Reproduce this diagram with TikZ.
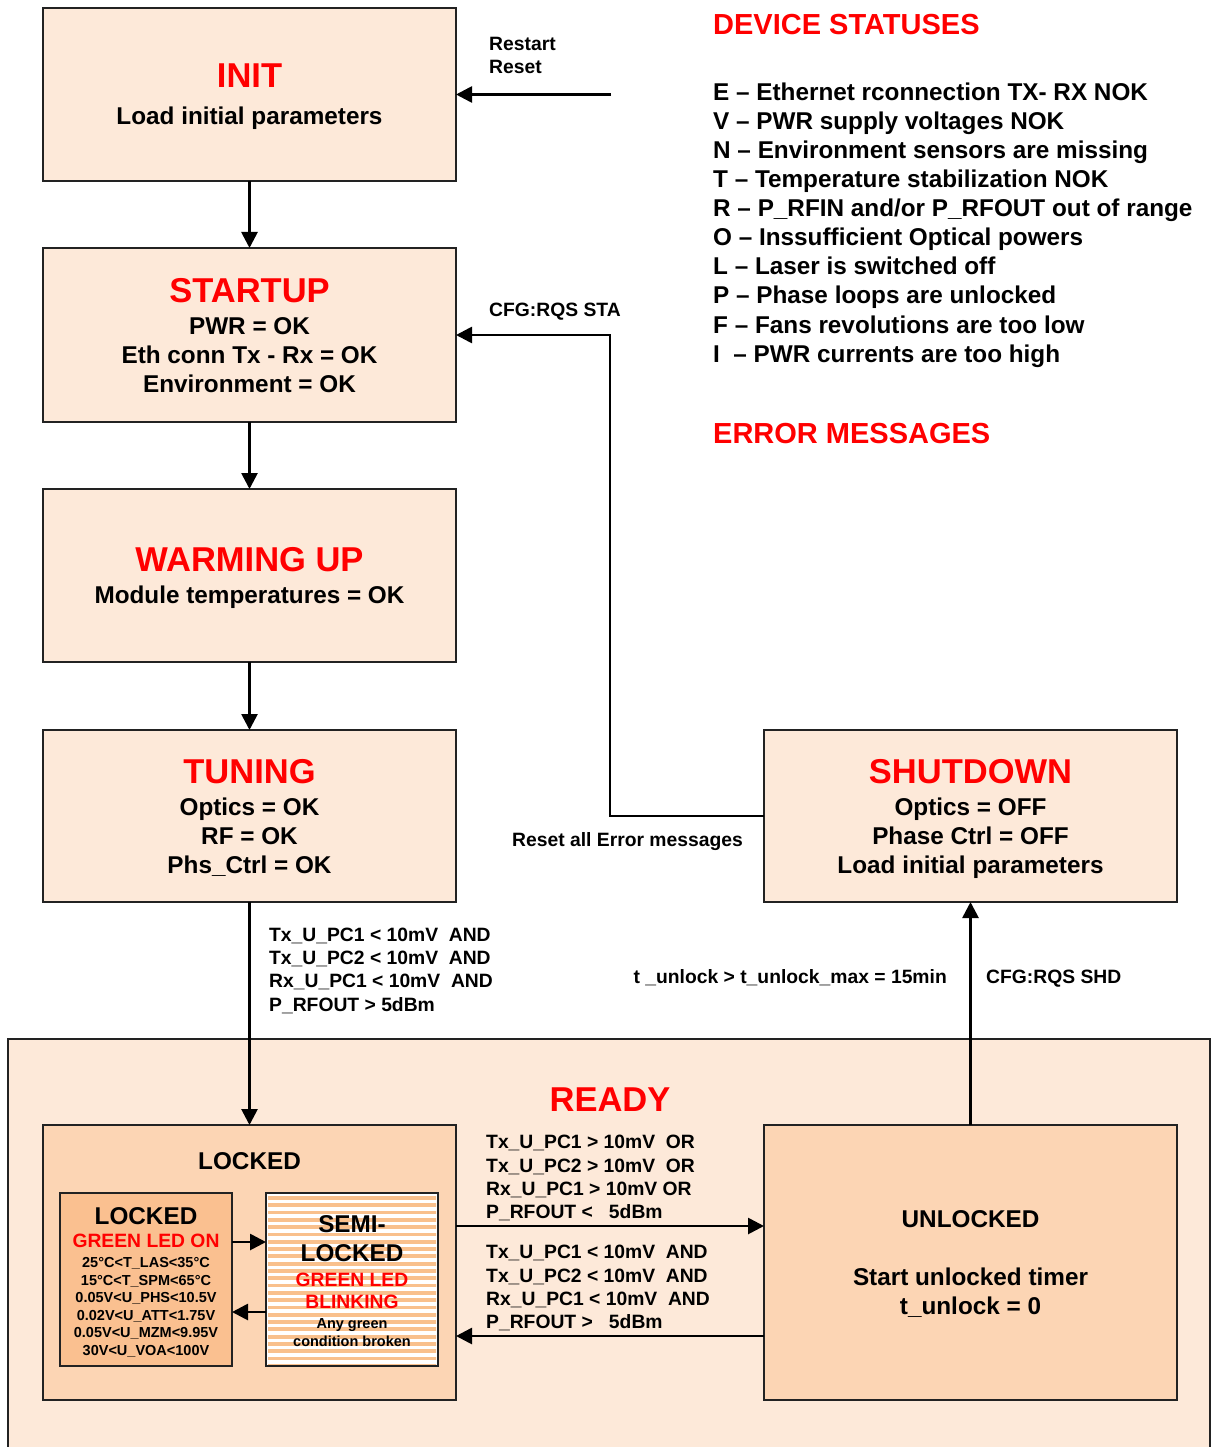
\documentclass[tikz,border=0pt]{standalone}
\usepackage{fontspec}
\setmainfont{Liberation Sans}
\usetikzlibrary{arrows.meta}

\definecolor{peach}{HTML}{FDE9D9}
\definecolor{apricot}{HTML}{FCD5B4}
\definecolor{tanbox}{HTML}{FAC090}
\definecolor{stripe}{HTML}{F9C08C}
\definecolor{edge}{HTML}{222222}
\definecolor{alarm}{HTML}{FF0000}

\tikzset{
  box/.style={draw=edge, line width=2.7pt, fill=peach, inner sep=0pt, outer sep=0pt, rectangle},
  flow/.style={draw=black, line width=2.7pt, -{Triangle[length=16pt,width=16pt]}},
  txt/.style={inner sep=0pt, text height=17.4pt, text depth=0pt,
    font=\bfseries\fontsize{24.3}{28}\selectfont},
  ttl/.style={inner sep=0pt, text height=24.7pt, text depth=0pt, text=alarm,
    font=\bfseries\fontsize{34.5}{40}\selectfont},
  head/.style={inner sep=0pt, text height=20.8pt, text depth=0pt, text=alarm,
    font=\bfseries\fontsize{29}{33}\selectfont},
  lbl/.style={inner sep=0pt, text height=13.8pt, text depth=0pt,
    font=\bfseries\fontsize{19.3}{23}\selectfont},
  redlbl/.style={lbl, text=alarm},
  small/.style={inner sep=0pt, text height=10.4pt, text depth=0pt,
    font=\bfseries\fontsize{14.5}{17}\selectfont},
}

\begin{document}
\begin{tikzpicture}[x=1pt, y=-1pt]
\useasboundingbox (0,0) rectangle (1211,1447);
\clip (0,0) rectangle (1211,1447);

% ---------------- READY region ----------------
\node[box, minimum width=1202pt, minimum height=422pt] (ready) at (609,1250) {};
\node[ttl] (readyt) at (610,1099) {READY};

% ---------------- state boxes ----------------
\node[box, minimum width=413pt, minimum height=173pt] (init)    at (249.5,94.5) {};
\node[box, minimum width=413pt, minimum height=174pt] (startup) at (249.5,335) {};
\node[box, minimum width=413pt, minimum height=173pt] (warm)    at (249.5,575.5) {};
\node[box, minimum width=413pt, minimum height=172pt] (tuning)  at (249.5,816) {};
\node[box, minimum width=413pt, minimum height=172pt] (shut)    at (970.5,816) {};
\node[box, fill=apricot, minimum width=413pt, minimum height=275pt] (locked)   at (249.5,1262.5) {};
\node[box, fill=apricot, minimum width=413pt, minimum height=275pt] (unlocked) at (970.5,1262.5) {};
\node[box, fill=tanbox, minimum width=172pt, minimum height=173pt] (lockin) at (146,1279.5) {};
\node[box, draw=none, fill=white, minimum width=172pt, minimum height=173pt] (semi) at (352,1279.5) {};

% striped fill of the semi-locked box, then its frame
\begin{scope}
  \clip (268,1195) rectangle (436,1364);
  \foreach \k in {0,...,24}
    \fill[stripe] (266,{1196+\k*7.3}) rectangle (438,{1199.8+\k*7.3});
\end{scope}
\draw[edge, line width=2.7pt] (semi.south west) rectangle (semi.north east);

% ---------------- box texts ----------------
\node[ttl] (initt) at (249.5,75) {INIT};
\node[txt] (init1) at (249.5,116) {Load initial parameters};

\node[ttl] (startt) at (249.5,290) {STARTUP};
\node[txt] (start1) at (249.5,326) {PWR = OK};
\node[txt] (start2) at (249.5,355) {Eth conn Tx - Rx = OK};
\node[txt] (start3) at (249.5,384) {Environment = OK};

\node[ttl] (warmt) at (249.5,559) {WARMING UP};
\node[txt] (warm1) at (249.5,595) {Module temperatures = OK};

\node[ttl] (tunet) at (249.5,771) {TUNING};
\node[txt] (tune1) at (249.5,807) {Optics = OK};
\node[txt] (tune2) at (249.5,836) {RF = OK};
\node[txt] (tune3) at (249.5,865) {Phs\_Ctrl = OK};

\node[ttl] (shutt) at (970.5,771) {SHUTDOWN};
\node[txt] (shut1) at (970.5,807) {Optics = OFF};
\node[txt] (shut2) at (970.5,836) {Phase Ctrl = OFF};
\node[txt] (shut3) at (970.5,865) {Load initial parameters};

\node[txt] (lockedt) at (249.5,1161) {LOCKED};

\node[txt] (lockint) at (146,1216) {LOCKED};
\node[redlbl] (lockin0) at (146,1241) {GREEN LED ON};
\node[small] (lockin1) at (146,1262) {25°C<T\_LAS<35°C};
\node[small] (lockin2) at (146,1280) {15°C<T\_SPM<65°C};
\node[small] (lockin3) at (146,1297) {0.05V<U\_PHS<10.5V};
\node[small] (lockin4) at (146,1315) {0.02V<U\_ATT<1.75V};
\node[small] (lockin5) at (146,1332) {0.05V<U\_MZM<9.95V};
\node[small] (lockin6) at (146,1350) {30V<U\_VOA<100V};

\node[txt] (semit1) at (352,1224) {SEMI-};
\node[txt] (semit2) at (352,1253) {LOCKED};
\node[redlbl] (semi1) at (352,1280) {GREEN LED};
\node[redlbl] (semi2) at (352,1302) {BLINKING};
\node[small] (semi3) at (352,1323) {Any green};
\node[small] (semi4) at (352,1341) {condition broken};

\node[txt] (unlt) at (970.5,1219) {UNLOCKED};
\node[txt] (unl1) at (970.5,1277) {Start unlocked timer};
\node[txt] (unl2) at (970.5,1306) {t\_unlock = 0};

% ---------------- connectors ----------------
\coordinate (restart) at (611,94.5);
\coordinate (bend) at (610,816);
\coordinate (upper) at (0,1226);
\coordinate (lower) at (0,1336);
\coordinate (inup) at (0,1242);
\coordinate (indown) at (0,1312);

\draw[flow] (init) -- (startup);
\draw[flow] (startup) -- (warm);
\draw[flow] (warm) -- (tuning);
\draw[flow] (restart) -- (init.east);
\draw[flow] (shut.west) -- (bend) |- (startup.east);
\draw[flow] (tuning) -- (locked);
\draw[flow] (unlocked) -- (shut);
\draw[flow] (locked.east |- upper) -- (unlocked.west |- upper);
\draw[flow] (unlocked.west |- lower) -- (locked.east |- lower);
\draw[flow] (lockin.east |- inup) -- (semi.west |- inup);
\draw[flow] (semi.west |- indown) -- (lockin.east |- indown);

% ---------------- connector labels ----------------
\node[lbl, anchor=west] (rs1) at (489,44) {Restart};
\node[lbl, anchor=west] (rs2) at (489,67) {Reset};
\node[lbl, anchor=west] (sta) at (489,310) {CFG:RQS STA};
\node[lbl, anchor=west] (rae) at (512,840) {Reset all Error messages};

\node[lbl, anchor=west] (tl1) at (269,935) {Tx\_U\_PC1 < 10mV~~AND};
\node[lbl, anchor=west] (tl2) at (269,958) {Tx\_U\_PC2 < 10mV~~AND};
\node[lbl, anchor=west] (tl3) at (269,981) {Rx\_U\_PC1 < 10mV~~AND};
\node[lbl, anchor=west] (tl4) at (269,1005) {P\_RFOUT > 5dBm};

\node[lbl, anchor=east] (tmax) at (947,977) {t \_unlock > t\_unlock\_max = 15min};
\node[lbl, anchor=west] (shd) at (986,977) {CFG:RQS SHD};

\node[lbl, anchor=west] (ul1) at (486,1142) {Tx\_U\_PC1 > 10mV~~OR};
\node[lbl, anchor=west] (ul2) at (486,1166) {Tx\_U\_PC2 > 10mV~~OR};
\node[lbl, anchor=west] (ul3) at (486,1189) {Rx\_U\_PC1 > 10mV OR};
\node[lbl, anchor=west] (ul4) at (486,1212) {P\_RFOUT <~~~5dBm};

\node[lbl, anchor=west] (lk1) at (486,1252) {Tx\_U\_PC1 < 10mV~~AND};
\node[lbl, anchor=west] (lk2) at (486,1276) {Tx\_U\_PC2 < 10mV~~AND};
\node[lbl, anchor=west] (lk3) at (486,1299) {Rx\_U\_PC1 < 10mV~~AND};
\node[lbl, anchor=west] (lk4) at (486,1322) {P\_RFOUT >~~~5dBm};

% ---------------- status legend ----------------
\node[head, anchor=west] (devh) at (713,24) {DEVICE STATUSES};
\node[txt, anchor=west] (s1) at (713,92)  {E -- Ethernet rconnection TX- RX NOK};
\node[txt, anchor=west] (s2) at (713,121) {V -- PWR supply voltages NOK};
\node[txt, anchor=west] (s3) at (713,150) {N -- Environment sensors are missing};
\node[txt, anchor=west] (s4) at (713,179) {T -- Temperature stabilization NOK};
\node[txt, anchor=west] (s5) at (713,208) {R -- P\_RFIN and/or P\_RFOUT out of range};
\node[txt, anchor=west] (s6) at (713,237) {O -- Inssufficient Optical powers};
\node[txt, anchor=west] (s7) at (713,266) {L -- Laser is switched off};
\node[txt, anchor=west] (s8) at (713,295) {P -- Phase loops are unlocked};
\node[txt, anchor=west] (s9) at (713,325) {F -- Fans revolutions are too low};
\node[txt, anchor=west] (s10) at (713,354) {I~~-- PWR currents are too high};
\node[head, anchor=west] (errh) at (713,433) {ERROR MESSAGES};

\end{tikzpicture}
\end{document}
